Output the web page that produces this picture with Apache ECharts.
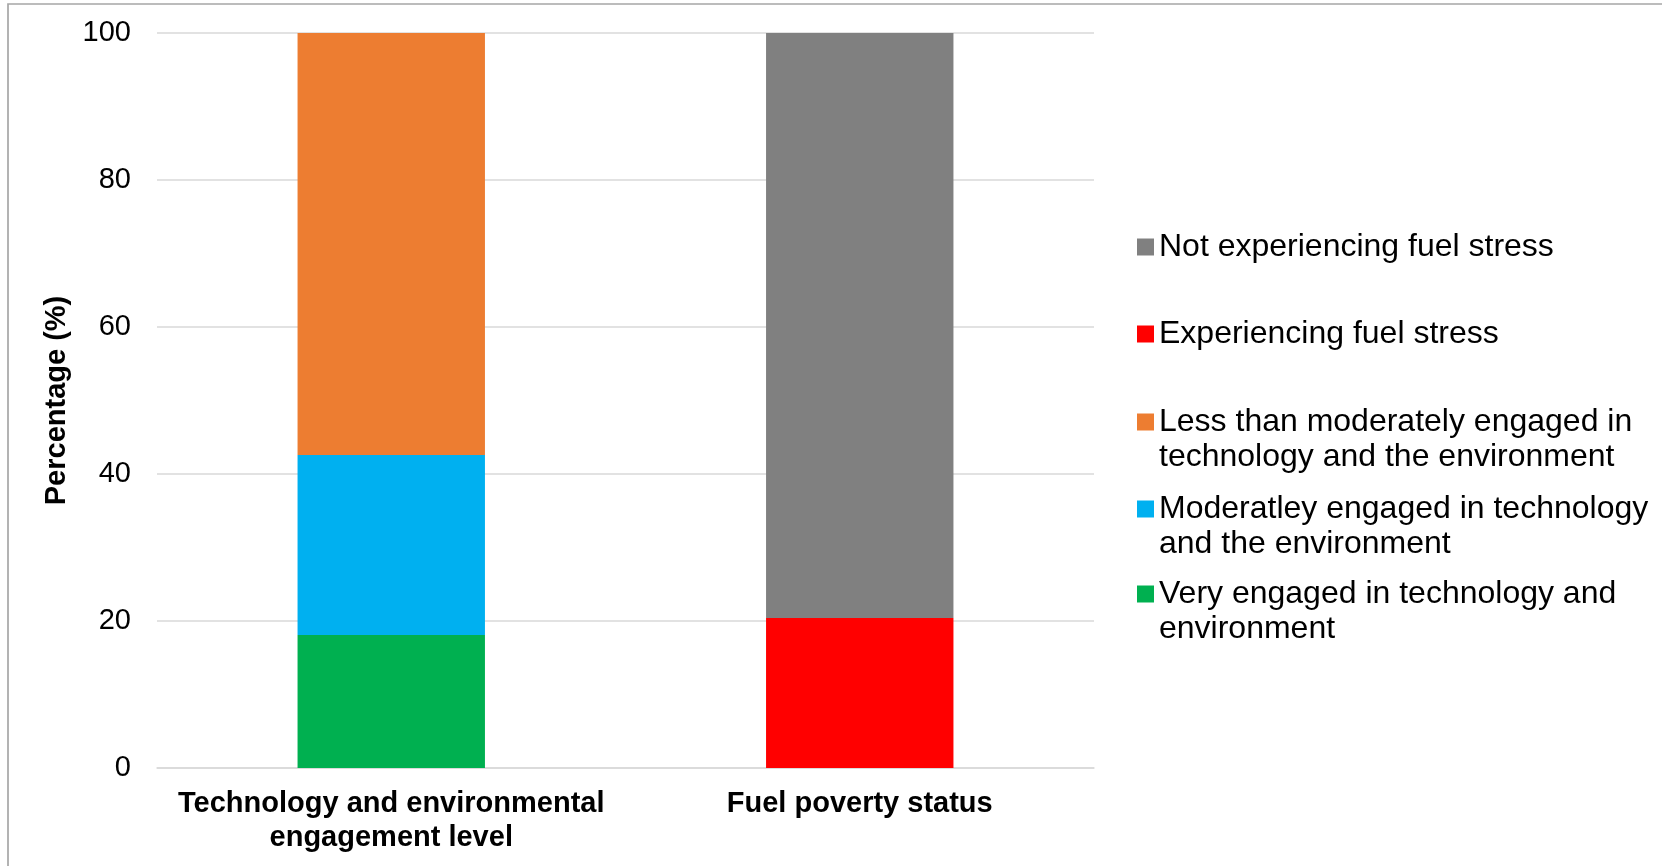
<!DOCTYPE html>
<html>
<head>
<meta charset="utf-8">
<script src="https://cdn.jsdelivr.net/npm/echarts@6/dist/echarts.min.js"></script>
<style>
  html, body { margin: 0; padding: 0; background: #ffffff; }
  #chart { width: 1662px; height: 866px; }
</style>
</head>
<body>
<div id="chart"></div>
<script>
// Category axis labels
const categories = [
  'Technology and environmental\nengagement level',
  'Fuel poverty status'
];

// Percentages per stacked segment (first bar: engagement, second bar: fuel poverty)
const veryEngaged       = [18.1, '-'];
const moderatelyEngaged = [24.5, '-'];
const lessThanModerate  = [57.4, '-'];
const fuelStress        = ['-', 20.4];
const noFuelStress      = ['-', 79.6];

// Y axis range and step
const yTicks = { min: 0, max: 100, interval: 20 };

// Legend entries, top to bottom
const legendNames = [
  'Not experiencing fuel stress',
  'Experiencing fuel stress',
  'Less than moderately engaged in\ntechnology and the environment',
  'Moderatley engaged in technology\nand the environment',
  'Very engaged in technology and\nenvironment'
];

const colors = {
  grey: '#808080',
  red: '#FF0000',
  orange: '#ED7D31',
  blue: '#00B0F0',
  green: '#00B050'
};

const chart = echarts.init(document.getElementById('chart'), null, { renderer: 'canvas' });

const LEGEND_LINE = 35;
// One legend block per entry so each square sits beside the first text line:
// two-line entries get an empty leading line, which centres the block on line one.
const legendCentres = [247, 334, 422, 509, 594];
const legends = legendNames.map((name, i) => {
  const twoLines = name.indexOf('\n') >= 0;
  return {
    data: [name],
    left: 1137,
    top: legendCentres[i] - (twoLines ? LEGEND_LINE * 1.5 : LEGEND_LINE / 2),
    orient: 'vertical',
    padding: 0,
    icon: 'rect',
    itemWidth: 17,
    itemHeight: 17,
    selectedMode: false,
    formatter: twoLines ? (n) => ' \n' + n : (n) => n,
    textStyle: {
      fontFamily: '"Liberation Sans", Arial, sans-serif',
      fontSize: 32,
      color: '#000000',
      lineHeight: LEGEND_LINE
    }
  };
});

function barSeries(name, data, color) {
  return {
    name: name,
    type: 'bar',
    stack: 'total',
    data: data,
    barWidth: '40%',
    itemStyle: { color: color },
    emphasis: { disabled: true }
  };
}

const option = {
  animation: false,
  backgroundColor: '#ffffff',
  graphic: [{
    type: 'rect',
    shape: { x: 8, y: 4, width: 1700, height: 900 },
    style: { fill: 'none', stroke: '#A6A6A6', lineWidth: 1.7 },
    silent: true,
    z: 10
  }],
  grid: { left: 157, right: 568, top: 33, bottom: 98, containLabel: false },
  legend: legends,
  xAxis: {
    type: 'category',
    data: categories,
    axisLine: { show: true, lineStyle: { color: '#D9D9D9', width: 1.5 } },
    axisTick: { show: false },
    axisLabel: {
      interval: 0,
      margin: 19,
      fontFamily: '"Liberation Sans", Arial, sans-serif',
      fontWeight: 'bold',
      fontSize: 29,
      lineHeight: 34,
      color: '#000000'
    }
  },
  yAxis: {
    type: 'value',
    min: yTicks.min,
    max: yTicks.max,
    interval: yTicks.interval,
    name: 'Percentage (%)',
    nameLocation: 'middle',
    nameRotate: 90,
    nameGap: 71,
    nameTextStyle: {
      fontFamily: '"Liberation Sans", Arial, sans-serif',
      fontWeight: 'bold',
      fontSize: 29,
      color: '#000000'
    },
    axisLine: { show: false },
    axisTick: { show: false },
    splitLine: { show: true, lineStyle: { color: '#D9D9D9', width: 1.5 } },
    axisLabel: {
      margin: 26,
      fontFamily: '"Liberation Sans", Arial, sans-serif',
      fontSize: 29,
      color: '#000000'
    }
  },
  series: [
    barSeries(legendNames[4], veryEngaged, colors.green),
    barSeries(legendNames[3], moderatelyEngaged, colors.blue),
    barSeries(legendNames[2], lessThanModerate, colors.orange),
    barSeries(legendNames[1], fuelStress, colors.red),
    barSeries(legendNames[0], noFuelStress, colors.grey)
  ]
};

chart.setOption(option);
</script>
</body>
</html>
